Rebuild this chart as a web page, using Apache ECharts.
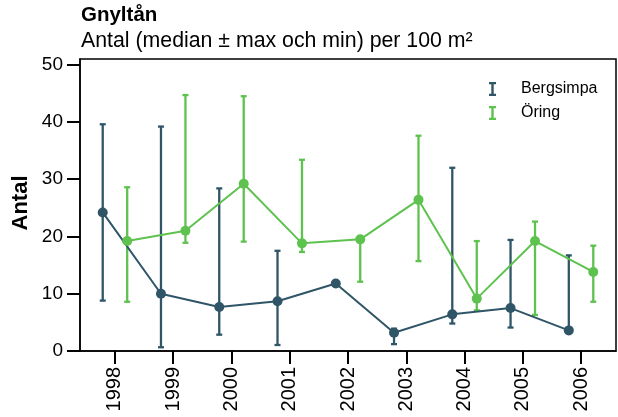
<!DOCTYPE html>
<html>
<head>
<meta charset="utf-8">
<script src="https://cdn.jsdelivr.net/npm/echarts@6.0.0/dist/echarts.min.js"></script>
<style>
  html, body { margin: 0; padding: 0; background: #fff; }
  #chart { width: 618px; height: 417px; }
</style>
</head>
<body>
<div id="chart"></div>
<script>
// ------------------------------------------------------------
// Data
// ------------------------------------------------------------
const years = [1998, 1999, 2000, 2001, 2002, 2003, 2004, 2005, 2006];
const yTicks = [0, 10, 20, 30, 40, 50];

const bergsimpaMedian = [24.2, 10.0, 7.7, 8.7, 11.8, 3.2, 6.4, 7.5, 3.6];
const bergsimpaMax    = [39.6, 39.2, 28.4, 17.5, 11.8, 3.9, 32.0, 19.4, 16.7];
const bergsimpaMin    = [8.8, 0.65, 2.85, 1.05, 11.8, 1.2, 4.8, 4.1, 3.6];

const oringMedian = [19.2, 21.0, 29.2, 18.8, 19.5, 26.4, 9.15, 19.2, 13.8];
const oringMax    = [28.6, 44.7, 44.5, 33.4, 19.5, 37.6, 19.2, 22.6, 18.4];
const oringMin    = [8.6, 18.9, 19.1, 17.3, 12.1, 15.7, 7.1, 6.3, 8.6];

const DARK = "#2f5567";
const GREEN = "#5ec24f";
const FONT = "Liberation Sans, Arial, sans-serif";
const DODGE = 0.21;

// I-beam legend icon, like a small error bar
const ibeam = "path://M0,0h7v2.2h-2.3v9.6h2.3v2.2h-7v-2.2h2.3v-9.6h-2.3z";

function errorSeries(name, color, offset, mins, maxs) {
  return {
    name: name,
    type: "custom",
    z: 2,
    data: years.map((y, i) => [y + offset, mins[i], maxs[i]]),
    renderItem: (params, api) => {
      const lo = api.coord([api.value(0), api.value(1)]);
      const hi = api.coord([api.value(0), api.value(2)]);
      const half = 3;
      const style = { stroke: color, lineWidth: 2.3 };
      return {
        type: "group",
        children: [
          { type: "line", shape: { x1: hi[0], y1: hi[1], x2: lo[0], y2: lo[1] }, style },
          { type: "line", shape: { x1: hi[0] - half, y1: hi[1], x2: hi[0] + half, y2: hi[1] }, style },
          { type: "line", shape: { x1: lo[0] - half, y1: lo[1], x2: lo[0] + half, y2: lo[1] }, style },
        ],
      };
    },
  };
}

function lineSeries(name, color, offset, medians, z) {
  return {
    name: name,
    type: "line",
    z: z,
    symbol: "circle",
    symbolSize: 10,
    itemStyle: { color: color },
    lineStyle: { color: color, width: 2 },
    data: years.map((y, i) => [y + offset, medians[i]]),
    animation: false,
  };
}

// ------------------------------------------------------------
// Chart
// ------------------------------------------------------------
const chart = echarts.init(document.getElementById("chart"), null, { renderer: "canvas" });

chart.setOption({
  animation: false,
  textStyle: { fontFamily: FONT },
  title: [
    {
      text: "Gnyltån",
      left: 81,
      top: 5,
      padding: 0,
      textStyle: { fontFamily: FONT, fontSize: 20.5, fontWeight: "bold", color: "#000" },
    },
    {
      text: "Antal (median ± max och min) per 100 m²",
      left: 81,
      top: 31,
      padding: 0,
      textStyle: { fontFamily: FONT, fontSize: 21.3, fontWeight: "normal", color: "#000" },
    },
  ],
  legend: {
    orient: "vertical",
    left: 489,
    top: 81,
    padding: 0,
    itemWidth: 7,
    itemHeight: 14,
    itemGap: 8,
    textStyle: { fontFamily: FONT, fontSize: 16, color: "#000", padding: [0, 0, 0, 20] },
    data: [
      { name: "Bergsimpa", icon: ibeam, itemStyle: { color: DARK } },
      { name: "Öring", icon: ibeam, itemStyle: { color: GREEN } },
    ],
  },
  grid: {
    left: 80,
    right: 2,
    top: 59,
    bottom: 66,
    show: true,
    borderColor: "#000",
    borderWidth: 1.5,
    containLabel: false,
  },
  xAxis: {
    type: "value",
    min: 1997.4,
    max: 2006.6,
    splitLine: { show: false },
    axisLine: { show: true, lineStyle: { color: "#000", width: 1.5 } },
    axisTick: { show: true, customValues: years, length: 13, lineStyle: { color: "#000", width: 2 } },
    axisLabel: {
      customValues: years,
      rotate: 90,
      margin: 16,
      fontFamily: FONT,
      fontSize: 20,
      color: "#000",
      formatter: (v) => String(v),
    },
  },
  yAxis: {
    type: "value",
    min: 0,
    max: 51,
    splitLine: { show: false },
    axisLine: { show: true, lineStyle: { color: "#000", width: 1.5 } },
    axisTick: { show: true, customValues: yTicks, length: 13, lineStyle: { color: "#000", width: 2 } },
    axisLabel: {
      customValues: yTicks,
      margin: 17,
      fontFamily: FONT,
      fontSize: 19,
      color: "#000",
    },
  },
  graphic: [
    {
      type: "text",
      x: 21,
      y: 203,
      rotation: Math.PI / 2,
      style: {
        text: "Antal",
        fontFamily: FONT,
        fontSize: 22,
        fontWeight: "bold",
        fill: "#000",
        align: "center",
        verticalAlign: "middle",
      },
    },
  ],
  series: [
    errorSeries("Bergsimpa", DARK, -DODGE, bergsimpaMin, bergsimpaMax),
    errorSeries("Öring", GREEN, DODGE, oringMin, oringMax),
    lineSeries("Bergsimpa", DARK, -DODGE, bergsimpaMedian, 3),
    lineSeries("Öring", GREEN, DODGE, oringMedian, 4),
  ],
});
</script>
</body>
</html>
